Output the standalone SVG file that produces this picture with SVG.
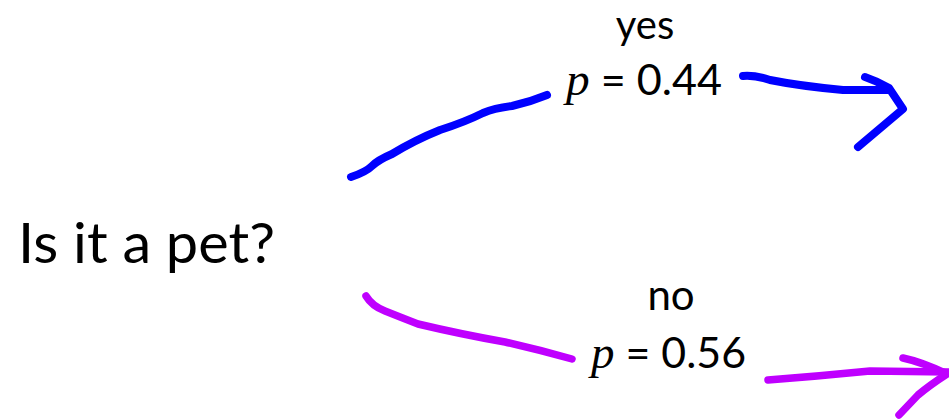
<svg xmlns="http://www.w3.org/2000/svg" width="949" height="419" viewBox="0 0 949 419">
<style>
.lbl{font-family:"Lato","Open Sans","Liberation Sans",sans-serif;fill:#000}
.pv{font-family:"Liberation Serif","DejaVu Serif",serif;font-style:italic}
.ink{fill:none;stroke-linecap:round;stroke-linejoin:round}
.blue{stroke:#0000FF;stroke-width:8}
.purple{stroke:#BF00FF;stroke-width:7.5}
</style>
<rect width="949" height="419" fill="#fff"/>
<g id="question">
<text class="lbl" x="18" y="263" font-size="56" textLength="257" lengthAdjust="spacingAndGlyphs">Is it a pet?</text>
</g>
<g id="yes-label">
<text class="lbl" x="645" y="39" font-size="40" text-anchor="middle">yes</text>
<text class="lbl" x="566" y="95" font-size="42" textLength="156" lengthAdjust="spacingAndGlyphs"><tspan class="pv" font-size="46">p</tspan> = 0.44</text>
</g>
<g id="no-label">
<text class="lbl" x="671" y="310" font-size="42" text-anchor="middle">no</text>
<text class="lbl" x="591" y="368" font-size="42" textLength="155" lengthAdjust="spacingAndGlyphs"><tspan class="pv" font-size="46">p</tspan> = 0.56</text>
</g>
<g id="connectors">
<path class="ink blue" d="M351,177 Q366,172 372,166 Q378,160 392,154 Q415,140 440,130 Q465,122 483,113 Q495,108 512,106 Q530,102 547,95"/>
<path class="ink blue" d="M743,76 Q755,75 770,80 Q800,86 843,90 L888,90"/>
<path class="ink blue" d="M865,77 Q877,81 889,88 Q895,97 903,109 L858,147"/>
<path class="ink purple" d="M366,296 Q372,306 385,311 Q400,317 418,324 Q460,334 505,342 Q540,350 572,359"/>
<path class="ink purple" d="M768,380 Q820,376 870,371 L949,372"/>
<path class="ink purple" d="M903,358 Q922,362 947,374 Q930,385 918,395 L899,415"/>
</g>
</svg>
